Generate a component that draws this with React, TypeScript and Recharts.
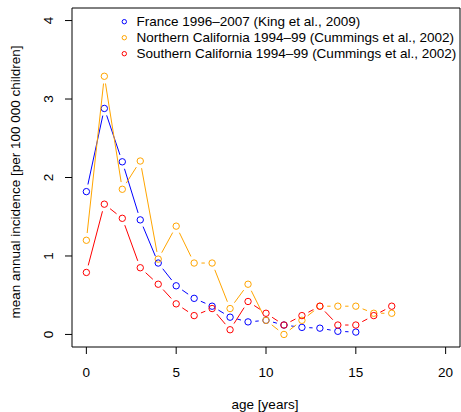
import React from 'react';
import { ScatterChart, Scatter, XAxis, YAxis, ReferenceArea, Legend, Label } from 'recharts';

// Age in completed years
const ages = [0, 1, 2, 3, 4, 5, 6, 7, 8, 9, 10, 11, 12, 13, 14, 15, 16, 17];

// Mean annual incidence per 100 000 children
const franceIncidence = [1.82, 2.88, 2.2, 1.46, 0.91, 0.62, 0.46, 0.36, 0.22, 0.16, 0.18, 0.12, 0.09, 0.08, 0.04, 0.03];
const northCalIncidence = [1.2, 3.29, 1.85, 2.21, 0.96, 1.38, 0.91, 0.91, 0.33, 0.64, 0.18, 0.0, 0.18, 0.36, 0.36, 0.36, 0.27, 0.27];
const southCalIncidence = [0.79, 1.66, 1.48, 0.85, 0.64, 0.39, 0.24, 0.33, 0.06, 0.42, 0.27, 0.12, 0.24, 0.36, 0.12, 0.12, 0.24, 0.36];

const seriesNames = [
  'France 1996–2007 (King et al., 2009)',
  'Northern California 1994–99 (Cummings et al., 2002)',
  'Southern California 1994–99 (Cummings et al., 2002)',
];
const seriesColors = ['#0000FF', '#FFA500', '#FF0000'];

const xTicks = [0, 5, 10, 15, 20];
const yTicks = [0, 1, 2, 3, 4];
const xDomain: [number, number] = [-0.8, 20.8];
const yDomain: [number, number] = [-0.16, 4.16];

const FONT = '"Liberation Sans", Arial, Helvetica, sans-serif';
const FS = 13.5;
const GAP = 7.3;

const toPoints = (values: number[]) => values.map((v, i) => ({ age: ages[i], value: v }));
const seriesData = [franceIncidence, northCalIncidence, southCalIncidence].map(toPoints);

// Connecting segments that stop short of each point marker
const gapLine = (props: any) => {
  const pts: { x: number; y: number }[] = props.points ?? [];
  const segs: string[] = [];
  for (let i = 0; i < pts.length - 1; i++) {
    const a = pts[i];
    const b = pts[i + 1];
    const dx = b.x - a.x;
    const dy = b.y - a.y;
    const d = Math.hypot(dx, dy);
    if (d <= 2 * GAP) continue;
    const ux = dx / d;
    const uy = dy / d;
    segs.push(`M${a.x + ux * GAP},${a.y + uy * GAP}L${b.x - ux * GAP},${b.y - uy * GAP}`);
  }
  return <path d={segs.join('')} stroke={props.stroke} fill="none" strokeWidth={1} />;
};

const hollowDot = (color: string) => (props: any) => (
  <circle cx={props.cx} cy={props.cy} r={3.2} fill="none" stroke={color} strokeWidth={1} />
);

const XTick = (props: any) => (
  <text x={props.x} y={props.y} dy={23.3} textAnchor="middle" fontSize={FS} fontFamily={FONT} fill="#000">
    {props.payload.value}
  </text>
);

const YTick = (props: any) => (
  <text
    transform={`translate(${props.x - 11.7},${props.y}) rotate(-90)`}
    textAnchor="middle"
    fontSize={FS}
    fontFamily={FONT}
    fill="#000"
  >
    {props.payload.value}
  </text>
);

const XTitle = (props: any) => {
  const vb = props.viewBox;
  return (
    <text x={vb.x + vb.width / 2 - 1} y={409} textAnchor="middle" fontSize={FS} fontFamily={FONT} fill="#000">
      age [years]
    </text>
  );
};

const YTitle = (props: any) => {
  const vb = props.viewBox;
  const cy = vb.y + vb.height / 2 + 4.5;
  return (
    <text
      transform={`translate(19.5,${cy}) rotate(-90)`}
      textAnchor="middle"
      fontSize={FS}
      fontFamily={FONT}
      fill="#000"
    >
      mean annual incidence [per 100 000 children]
    </text>
  );
};

const renderLegend = (props: any) => {
  const payload = props.payload ?? [];
  return (
    <svg width={461} height={70} style={{ display: 'block' }}>
      {payload.map((entry: any, i: number) => (
        <g key={i}>
          <circle cx={124.3} cy={21.7 + 16 * i} r={2.2} fill="none" stroke={entry.color ?? seriesColors[i]} strokeWidth={1} />
          <text x={136.5} y={26 + 16 * i} fontSize={FS} fontFamily={FONT} fill="#000">
            {entry.value}
          </text>
        </g>
      ))}
    </svg>
  );
};

export default function App() {
  return (
    <div style={{ position: 'absolute', left: 0, top: 0, background: '#fff' }}>
      <ScatterChart width={461} height={412} margin={{ top: 8, right: 1, bottom: 0, left: 0 }}>
        <XAxis
          type="number"
          dataKey="age"
          domain={xDomain}
          ticks={xTicks}
          interval={0}
          allowDataOverflow
          height={65}
          axisLine={false}
          tickSize={7}
          tickMargin={0}
          tickLine={{ stroke: '#000' }}
          tick={<XTick />}
        >
          <Label content={<XTitle />} />
        </XAxis>
        <YAxis
          type="number"
          dataKey="value"
          domain={yDomain}
          ticks={yTicks}
          interval={0}
          allowDataOverflow
          width={72}
          axisLine={false}
          tickSize={7}
          tickMargin={0}
          tickLine={{ stroke: '#000' }}
          tick={<YTick />}
        >
          <Label content={<YTitle />} />
        </YAxis>
        <ReferenceArea
          x1={xDomain[0]}
          x2={xDomain[1]}
          y1={yDomain[0]}
          y2={yDomain[1]}
          fill="none"
          stroke="#000"
          strokeWidth={1}
          ifOverflow="visible"
        />
        {seriesData.map((data, i) => (
          <Scatter
            key={seriesNames[i]}
            name={seriesNames[i]}
            data={data}
            fill={seriesColors[i]}
            stroke={seriesColors[i]}
            line={gapLine}
            shape={hollowDot(seriesColors[i])}
            isAnimationActive={false}
          />
        ))}
        <Legend
          layout="vertical"
          align="center"
          verticalAlign="middle"
          content={renderLegend}
          wrapperStyle={{ position: 'absolute', left: 0, top: 0, width: 461, height: 70 }}
        />
      </ScatterChart>
    </div>
  );
}
